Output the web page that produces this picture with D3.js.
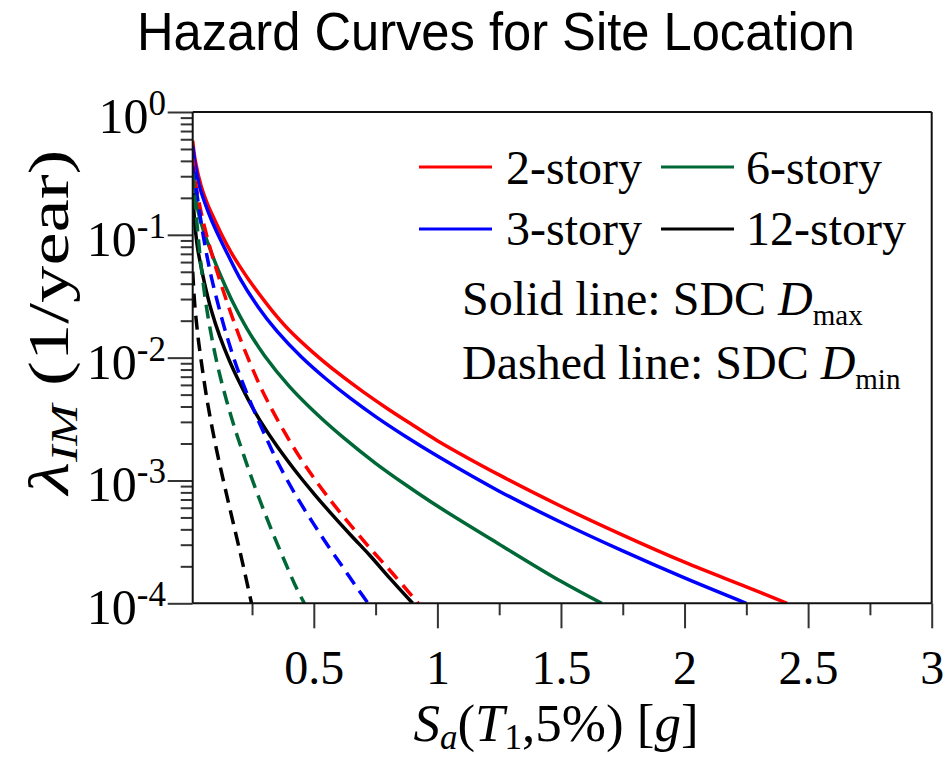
<!DOCTYPE html>
<html>
<head>
<meta charset="utf-8">
<script src="https://cdn.jsdelivr.net/npm/d3@7"></script>
<style>
  body { margin: 0; background: #fff; }
  svg { display: block; }
</style>
</head>
<body>
<svg id="chart" width="952" height="760"></svg>
<script>
// Hazard curve data: [Sa(T1,5%) in g, annual rate of exceedance]
// Solid = SDC Dmax
const story2Max = [[0.01,0.583],[0.02,0.407],[0.045,0.2466],[0.07,0.1778],[0.099,0.1321],[0.13,0.0977],[0.166,0.0716],[0.2,0.0556],[0.247,0.0403],[0.33,0.0243],[0.4,0.0168],[0.5,0.01089],[0.6,0.00743],[0.7,0.00526],[0.8,0.00382],[0.9,0.00283],[1.0,0.00211],[1.25,0.00111],[1.5,0.000617],[1.75,0.000359],[2.0,0.000216],[2.25,0.000136],[2.415,0.0001]];
const story3Max = [[0.01,0.528],[0.02,0.372],[0.038,0.2466],[0.06,0.1799],[0.085,0.1334],[0.12,0.0933],[0.153,0.0684],[0.2,0.0447],[0.274,0.026],[0.35,0.01652],[0.45,0.01012],[0.55,0.0067],[0.65,0.00463],[0.75,0.00331],[0.87,0.00229],[1.0,0.00158],[1.25,0.000818],[1.5,0.000457],[1.75,0.000267],[2.0,0.000161],[2.25,0.0001]];
const story6Max = [[0.01,0.38],[0.02,0.226],[0.031,0.159],[0.05,0.114],[0.072,0.0851],[0.1,0.0603],[0.126,0.0452],[0.173,0.0281],[0.23,0.01718],[0.3,0.01042],[0.4,0.00586],[0.5,0.00366],[0.62,0.00223],[0.75,0.00138],[0.87,0.000927],[1.0,0.000619],[1.25,0.000303],[1.5,0.000151],[1.665,0.0001]];
const story12Max = [[0.01,0.219],[0.02,0.1148],[0.031,0.0752],[0.045,0.0537],[0.058,0.0403],[0.085,0.0244],[0.12,0.01483],[0.16,0.00931],[0.2,0.00624],[0.24,0.00434],[0.282,0.00309],[0.35,0.00192],[0.445,0.001067],[0.5,0.000783],[0.565,0.000553],[0.65,0.000358],[0.727,0.000245],[0.81,0.000158],[0.9,0.0001]];

// Dashed = SDC Dmin
const story2Min = [[0.01,0.417],[0.0246,0.2427],[0.045,0.1496],[0.065,0.1016],[0.092,0.0647],[0.126,0.0389],[0.17,0.0214],[0.228,0.01057],[0.309,0.00458],[0.431,0.00169],[0.552,0.000757],[0.714,0.000302],[0.82,0.000174],[0.923,0.0001]];
const story3Min = [[0.01,0.363],[0.0246,0.2317],[0.036,0.1622],[0.052,0.1],[0.068,0.0668],[0.085,0.0457],[0.11,0.0285],[0.145,0.01574],[0.188,0.00843],[0.228,0.0052],[0.269,0.0033],[0.315,0.002056],[0.363,0.0013],[0.43,0.000741],[0.498,0.000447],[0.56,0.000289],[0.619,0.000195],[0.67,0.000138],[0.72,0.0001]];
const story6Min = [[0.01,0.316],[0.0315,0.1],[0.045,0.0537],[0.065,0.0263],[0.093,0.01262],[0.12,0.00719],[0.148,0.0044],[0.18,0.00267],[0.215,0.001637],[0.255,0.000964],[0.3,0.000555],[0.345,0.00033],[0.39,0.000202],[0.43,0.000133],[0.462,0.0001]];
const story12Min = [[0.01,0.0501],[0.018,0.0275],[0.03,0.0157],[0.043,0.00984],[0.07,0.0043],[0.107,0.00176],[0.147,0.00077],[0.188,0.000343],[0.215,0.0002],[0.248,0.0001]];

const seriesNames = ["2-story", "3-story", "6-story", "12-story"];
const seriesColors = ["#ff0000", "#0000ff", "#006837", "#000000"];
const solidSeries = [story2Max, story3Max, story6Max, story12Max];
const dashedSeries = [story2Min, story3Min, story6Min, story12Min];

const xMajorTicks = [0.5, 1, 1.5, 2, 2.5, 3];
const xMinorTicks = [0.25, 0.75, 1.25, 1.75, 2.25, 2.75];
const yMajorExponents = [0, -1, -2, -3, -4];

const titleText = "Hazard Curves for Site Location";
const noteSolid = ["Solid line: SDC ", "D", "max"];
const noteDashed = ["Dashed line: SDC ", "D", "min"];

// ---- layout ----
const plot = { left: 192.7, right: 931.7, top: 112, bottom: 603.3 };
const serif = "'Liberation Serif','Times New Roman',Times,serif";

const svg = d3.select("#chart");

const x = d3.scaleLinear().domain([0.01, 3]).range([plot.left, plot.right]);
const y = d3.scaleLog().domain([1e-4, 1]).range([plot.bottom, plot.top]);

// ---- title ----
svg.append("text")
  .attr("x", 137).attr("y", 50)
  .attr("textLength", 718).attr("lengthAdjust", "spacingAndGlyphs")
  .style("font-family", "'Liberation Sans',Arial,Helvetica,sans-serif")
  .style("font-size", "54px")
  .text(titleText);

// ---- curves ----
svg.append("clipPath").attr("id", "plot-clip")
  .append("rect")
  .attr("x", plot.left).attr("y", plot.top - 2)
  .attr("width", plot.right - plot.left).attr("height", plot.bottom - plot.top + 2);

const line = d3.line()
  .x(d => x(d[0]))
  .y(d => y(d[1]))
  .curve(d3.curveCatmullRom.alpha(0.5));

const curves = svg.append("g").attr("clip-path", "url(#plot-clip)");

solidSeries.forEach((s, i) => {
  curves.append("path")
    .datum(s)
    .attr("d", line)
    .attr("fill", "none")
    .attr("stroke", seriesColors[i])
    .attr("stroke-width", 3.5);
});
dashedSeries.forEach((s, i) => {
  curves.append("path")
    .datum(s)
    .attr("d", line)
    .attr("fill", "none")
    .attr("stroke", seriesColors[i])
    .attr("stroke-width", 3.5)
    .attr("stroke-dasharray", "14,8");
});

// ---- axes ----
const tickColor = "#333";

// x axis: major and minor ticks
const xMajor = svg.append("g")
  .attr("transform", `translate(0,${plot.bottom})`)
  .call(d3.axisBottom(x).tickValues(xMajorTicks).tickSize(25).tickSizeOuter(0).tickFormat(d3.format("")));
xMajor.select(".domain").remove();
xMajor.selectAll(".tick line").attr("stroke", tickColor).attr("stroke-width", 2);
xMajor.selectAll(".tick text")
  .attr("y", 81).attr("dy", 0)
  .style("font-family", serif).style("font-size", "48px").attr("fill", "#000");

const xMinor = svg.append("g")
  .attr("transform", `translate(0,${plot.bottom})`)
  .call(d3.axisBottom(x).tickValues(xMinorTicks).tickSize(12).tickSizeOuter(0).tickFormat(""));
xMinor.select(".domain").remove();
xMinor.selectAll(".tick line").attr("stroke", tickColor).attr("stroke-width", 2);

// y axis: decade ticks and minor ticks
const yMajorValues = yMajorExponents.map(e => Math.pow(10, e));
const yMinorValues = y.ticks().filter(v => {
  const m = v / Math.pow(10, Math.floor(Math.log10(v) + 1e-9));
  return Math.abs(m - 1) > 1e-6;
});

const yMajor = svg.append("g")
  .attr("transform", `translate(${plot.left},0)`)
  .call(d3.axisLeft(y).tickValues(yMajorValues).tickSize(25).tickSizeOuter(0).tickFormat(""));
yMajor.select(".domain").remove();
yMajor.selectAll(".tick line").attr("stroke", tickColor).attr("stroke-width", 2);

const yMinor = svg.append("g")
  .attr("transform", `translate(${plot.left},0)`)
  .call(d3.axisLeft(y).tickValues(yMinorValues).tickSize(12).tickSizeOuter(0).tickFormat(""));
yMinor.select(".domain").remove();
yMinor.selectAll(".tick line").attr("stroke", tickColor).attr("stroke-width", 2);

// power-of-ten labels
const yLabels = svg.append("g").style("font-family", serif);
yMajorExponents.forEach(e => {
  const t = yLabels.append("text")
    .attr("x", 166)
    .attr("y", y(Math.pow(10, e)) + 21)
    .attr("text-anchor", "end");
  t.append("tspan").style("font-size", "50px").text("10");
  t.append("tspan").style("font-size", "35px").attr("dy", -18).text(String(e));
});

// frame: left, bottom, top, right
const frame = svg.append("g").attr("stroke", "#111").attr("stroke-width", 2).attr("fill", "none");
frame.append("line").attr("x1", plot.left).attr("x2", plot.left).attr("y1", plot.top).attr("y2", plot.bottom);
frame.append("line").attr("x1", plot.left).attr("x2", plot.right).attr("y1", plot.bottom).attr("y2", plot.bottom);
frame.append("line").attr("x1", plot.left).attr("x2", plot.right).attr("y1", plot.top).attr("y2", plot.top);
frame.append("line").attr("x1", plot.right).attr("x2", plot.right).attr("y1", plot.top).attr("y2", plot.bottom);

// ---- axis titles ----
const xTitle = svg.append("text")
  .attr("x", 556).attr("y", 741)
  .attr("text-anchor", "middle")
  .style("font-family", serif).style("font-size", "53px");
xTitle.append("tspan").style("font-style", "italic").text("S");
xTitle.append("tspan").style("font-style", "italic").style("font-size", "35px").attr("dy", 8).text("a");
xTitle.append("tspan").attr("dy", -8).text("(");
xTitle.append("tspan").style("font-style", "italic").text("T");
xTitle.append("tspan").style("font-size", "35px").attr("dy", 8).text("1");
xTitle.append("tspan").attr("dy", -8).text(",5%) [");
xTitle.append("tspan").style("font-style", "italic").text("g");
xTitle.append("tspan").text("]");

const yTitle = svg.append("text")
  .attr("transform", "translate(68,322) rotate(-90)")
  .attr("text-anchor", "middle")
  .attr("textLength", 345).attr("lengthAdjust", "spacingAndGlyphs")
  .style("font-family", serif).style("font-size", "56px");
yTitle.append("tspan").style("font-style", "italic").text("λ");
yTitle.append("tspan").style("font-style", "italic").style("font-size", "37px").attr("dy", 9).text("IM");
yTitle.append("tspan").attr("dy", -9).text(" (1/year)");

// ---- legend ----
const legendPos = [
  { lx: 419, ly: 167, tx: 506, ty: 184 },
  { lx: 419, ly: 229, tx: 506, ty: 245 },
  { lx: 661, ly: 167, tx: 746, ty: 184 },
  { lx: 661, ly: 229, tx: 746, ty: 245 }
];
const legend = svg.append("g").style("font-family", serif).style("font-size", "48px");
seriesNames.forEach((name, i) => {
  const p = legendPos[i];
  legend.append("line")
    .attr("x1", p.lx).attr("x2", p.lx + 73)
    .attr("y1", p.ly).attr("y2", p.ly)
    .attr("stroke", seriesColors[i]).attr("stroke-width", 3);
  legend.append("text").attr("x", p.tx).attr("y", p.ty).text(name);
});

function note(parts, ty) {
  const t = legend.append("text").attr("x", 462).attr("y", ty);
  t.append("tspan").text(parts[0]);
  t.append("tspan").style("font-style", "italic").text(parts[1]);
  t.append("tspan").style("font-size", "29px").attr("dy", 10).text(parts[2]);
}
note(noteSolid, 315);
note(noteDashed, 379);
</script>
</body>
</html>
